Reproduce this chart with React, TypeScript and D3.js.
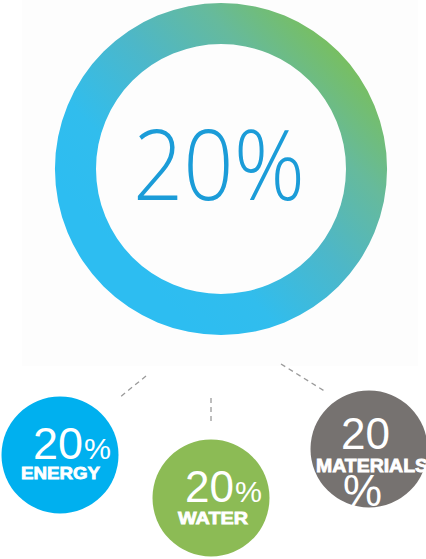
import React from "react";
import * as d3 from "d3";

const categories = ["ENERGY", "WATER", "MATERIALS"];
const values = [20, 20, 20];
const totalValue = 20;
const colors = ["#00b0ef", "#8cbb55", "#767270"];

const W = 426;
const H = 559;

export default function App() {
  const cx = 221;
  const cy = 169;
  const ring = d3.arc<any>()({
    innerRadius: 125,
    outerRadius: 166,
    startAngle: 0,
    endAngle: 2 * Math.PI,
  } as any) as string;

  const bubbleX = d3.scaleOrdinal<string, number>().domain(categories).range([60, 211, 369]);
  const bubbleY = d3.scaleOrdinal<string, number>().domain(categories).range([455, 498, 449]);
  const bubbleR = 58.5;

  const connectors = [
    { x1: 146, y1: 376, x2: 119, y2: 398 },
    { x1: 211, y1: 398, x2: 211, y2: 421 },
    { x1: 281, y1: 364, x2: 326, y2: 392 },
  ];

  const numFont = "'Liberation Sans', Arial, sans-serif";

  return (
    <svg
      width={W}
      height={H}
      style={{ position: "absolute", left: 0, top: 0, background: "#ffffff" }}
    >
      <defs>
        <linearGradient id="ringGrad" gradientUnits="userSpaceOnUse" x1={100} y1={300} x2={380} y2={40}>
          <stop offset="0" stopColor="#2dbdf1" />
          <stop offset="0.17" stopColor="#31bded" />
          <stop offset="0.4" stopColor="#4db7c8" />
          <stop offset="0.6" stopColor="#66ba9c" />
          <stop offset="0.8" stopColor="#7abf5a" />
          <stop offset="1" stopColor="#80c049" />
        </linearGradient>
      </defs>
      <rect x={22} y={0} width={396} height={366} fill="#fdfdfd" />
      <path d={ring} transform={`translate(${cx},${cy})`} fill="url(#ringGrad)" />
      <text
        x={cx - 2}
        y={200}
        textAnchor="middle"
        fontFamily="'Open Sans', sans-serif"
        fontWeight={300}
        fontSize={98}
        fill="#1b9cd8"
        textLength={172}
        lengthAdjust="spacingAndGlyphs"
      >
        {totalValue}%
      </text>

      {connectors.map((c, i) => (
        <line
          key={i}
          x1={c.x1}
          y1={c.y1}
          x2={c.x2}
          y2={c.y2}
          stroke="#9a9a9a"
          strokeWidth={1.3}
          strokeDasharray="5,4"
        />
      ))}

      {categories.map((cat, i) => (
        <circle key={cat} cx={bubbleX(cat)} cy={bubbleY(cat)} r={bubbleR} fill={colors[i]} />
      ))}

      <g fill="#ffffff">
        {/* ENERGY */}
        <text x={33} y={459} fontFamily={numFont} fontSize={44} textLength={50} lengthAdjust="spacingAndGlyphs">
          {values[0]}
        </text>
        <text x={84} y={459} fontFamily={numFont} fontSize={30} textLength={27} lengthAdjust="spacingAndGlyphs">
          %
        </text>
        <text
          x={21}
          y={479}
          fontFamily={numFont}
          fontWeight={700}
          fontSize={17}
          textLength={79}
          lengthAdjust="spacingAndGlyphs"
          stroke="#ffffff"
          strokeWidth={0.8}
        >
          {categories[0]}
        </text>

        {/* WATER */}
        <text x={185} y={502} fontFamily={numFont} fontSize={44} textLength={49} lengthAdjust="spacingAndGlyphs">
          {values[1]}
        </text>
        <text x={235} y={502} fontFamily={numFont} fontSize={30} textLength={27} lengthAdjust="spacingAndGlyphs">
          %
        </text>
        <text
          x={178}
          y={524}
          fontFamily={numFont}
          fontWeight={700}
          fontSize={17}
          textLength={70}
          lengthAdjust="spacingAndGlyphs"
          stroke="#ffffff"
          strokeWidth={0.8}
        >
          {categories[1]}
        </text>

        {/* MATERIALS */}
        <text x={341} y={449} fontFamily={numFont} fontSize={44} textLength={49} lengthAdjust="spacingAndGlyphs">
          {values[2]}
        </text>
        <text
          x={316}
          y={472}
          fontFamily={numFont}
          fontWeight={700}
          fontSize={18}
          textLength={112}
          lengthAdjust="spacingAndGlyphs"
          stroke="#ffffff"
          strokeWidth={0.8}
        >
          {categories[2]}
        </text>
        <text x={343} y={506} fontFamily={numFont} fontSize={44} textLength={39} lengthAdjust="spacingAndGlyphs">
          %
        </text>
      </g>
    </svg>
  );
}
